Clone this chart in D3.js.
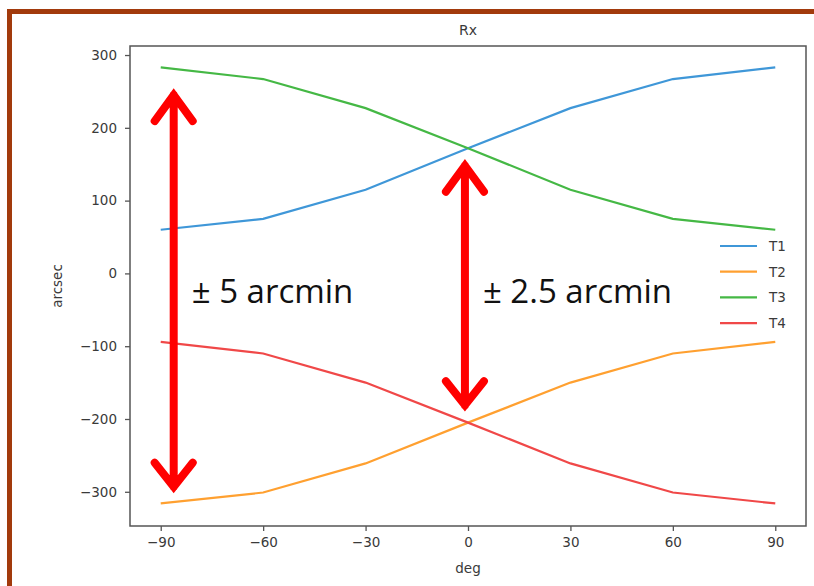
<!DOCTYPE html>
<html>
<head>
<meta charset="utf-8">
<script src="https://cdn.jsdelivr.net/npm/d3@7"></script>
<style>
  body { margin: 0; background: #fff; }
  svg text { font-family: "DejaVu Sans", sans-serif; fill: #3a3a3a; }
</style>
</head>
<body>
<div id="chart"></div>
<script>
// data
var degs = [-90, -60, -30, 0, 30, 60, 90];
var t1 = [60, 75, 115, 172, 227, 267, 283];
var t2 = [-316, -301, -261, -205, -150, -110, -94];
var t3 = [283, 267, 227, 172, 115, 75, 60];
var t4 = [-94, -110, -150, -205, -261, -301, -316];
var seriesNames = ['T1', 'T2', 'T3', 'T4'];
var seriesColors = ['#3f97d8', '#ffa030', '#45b845', '#f04848'];
var xTicks = [-90, -60, -30, 0, 30, 60, 90];
var yTicks = [-300, -200, -100, 0, 100, 200, 300];

// annotation arrows, in data units: [deg, top arcsec, bottom arcsec]
var arrows = [[-86.2, 245, -293], [-0.9, 148, -181]];
var arrowLabels = ['\u00b1 5 arcmin', '\u00b1 2.5 arcmin'];

var width = 814, height = 586;
var pLeft = 130, pRight = 806, pTop = 46, pBottom = 526;

var svg = d3.select('#chart')
  .append('svg')
  .attr('width', width)
  .attr('height', height);

// brown frame
svg.append('rect')
  .attr('x', 9.5).attr('y', 11.5)
  .attr('width', 830).attr('height', 620)
  .attr('fill', 'none')
  .attr('stroke', '#a23a0c')
  .attr('stroke-width', 5);

var x = d3.scaleLinear().domain([-99, 99]).range([pLeft, pRight]);
var y = d3.scaleLinear().domain([-347, 312.4]).range([pBottom, pTop]);

var minusFmt = function(d) { return d < 0 ? '\u2212' + Math.abs(d) : d; };

//axes
var xAxis = svg.append('g')
  .attr('transform', 'translate(0,' + pBottom + ')')
  .call(d3.axisBottom(x).tickValues(xTicks).tickSize(5).tickPadding(6).tickFormat(minusFmt));
var yAxis = svg.append('g')
  .attr('transform', 'translate(' + pLeft + ',0)')
  .call(d3.axisLeft(y).tickValues(yTicks).tickSize(5).tickPadding(8).tickFormat(minusFmt));

[xAxis, yAxis].forEach(function(a) {
  a.select('.domain').remove();
  a.selectAll('line').attr('stroke', '#555').attr('stroke-width', 1.3);
  a.selectAll('text').attr('font-size', 13.5).attr('fill', '#3a3a3a')
    .attr('font-family', '"DejaVu Sans", sans-serif');
});

// frame of the plot
svg.append('rect')
  .attr('x', pLeft).attr('y', pTop)
  .attr('width', pRight - pLeft).attr('height', pBottom - pTop)
  .attr('fill', 'none')
  .attr('stroke', '#555')
  .attr('stroke-width', 1.5);

var line = d3.line()
  .x(function(d, i) { return x(degs[i]); })
  .y(function(d) { return y(d); });

var allSeries = [t1, t2, t3, t4];
svg.selectAll('.series')
  .data(allSeries)
  .enter()
  .append('path')
  .attr('class', 'series')
  .attr('d', line)
  .attr('fill', 'none')
  .attr('stroke', function(d, i) { return seriesColors[i]; })
  .attr('stroke-width', 2.2);

//legend
var legend = svg.selectAll('.leg')
  .data(seriesNames)
  .enter()
  .append('g')
  .attr('class', 'leg')
  .attr('transform', function(d, i) { return 'translate(720,' + (246 + i * 25.7) + ')'; });
legend.append('line')
  .attr('x1', 0).attr('x2', 37)
  .attr('stroke', function(d, i) { return seriesColors[i]; })
  .attr('stroke-width', 2.2);
legend.append('text')
  .attr('x', 49).attr('dy', '0.36em')
  .attr('font-size', 13.5)
  .text(function(d) { return d; });

// titles
svg.append('text')
  .attr('x', (pLeft + pRight) / 2).attr('y', 35)
  .attr('text-anchor', 'middle')
  .attr('font-size', 14)
  .text('Rx');
svg.append('text')
  .attr('x', (pLeft + pRight) / 2).attr('y', 573)
  .attr('text-anchor', 'middle')
  .attr('font-size', 13.5)
  .text('deg');
svg.append('text')
  .attr('transform', 'translate(62,' + ((pTop + pBottom) / 2) + ') rotate(-90)')
  .attr('text-anchor', 'middle')
  .attr('font-size', 13.5)
  .text('arcsec');

// red double arrows
var ann = svg.selectAll('.arrow')
  .data(arrows)
  .enter()
  .append('g')
  .attr('class', 'arrow');
ann.append('path')
  .attr('d', function(d) {
    var ax = x(d[0]), y0 = y(d[1]), y1 = y(d[2]);
    return 'M' + ax + ',' + y0 + 'L' + ax + ',' + y1 +
      'M' + (ax - 19) + ',' + (y0 + 26) + 'L' + ax + ',' + y0 + 'L' + (ax + 19) + ',' + (y0 + 26) +
      'M' + (ax - 19) + ',' + (y1 - 24) + 'L' + ax + ',' + y1 + 'L' + (ax + 19) + ',' + (y1 - 24);
  })
  .attr('fill', 'none')
  .attr('stroke', '#ff0000')
  .attr('stroke-width', 8)
  .attr('stroke-linecap', 'round')
  .attr('stroke-linejoin', 'miter');
ann.append('text')
  .attr('x', function(d) { return x(d[0]) + 18; })
  .attr('y', 303)
  .attr('font-size', 33)
  .style('font-family', '"Open Sans", sans-serif')
  .style('fill', '#111')
  .text(function(d, i) { return arrowLabels[i]; });
</script>
</body>
</html>
